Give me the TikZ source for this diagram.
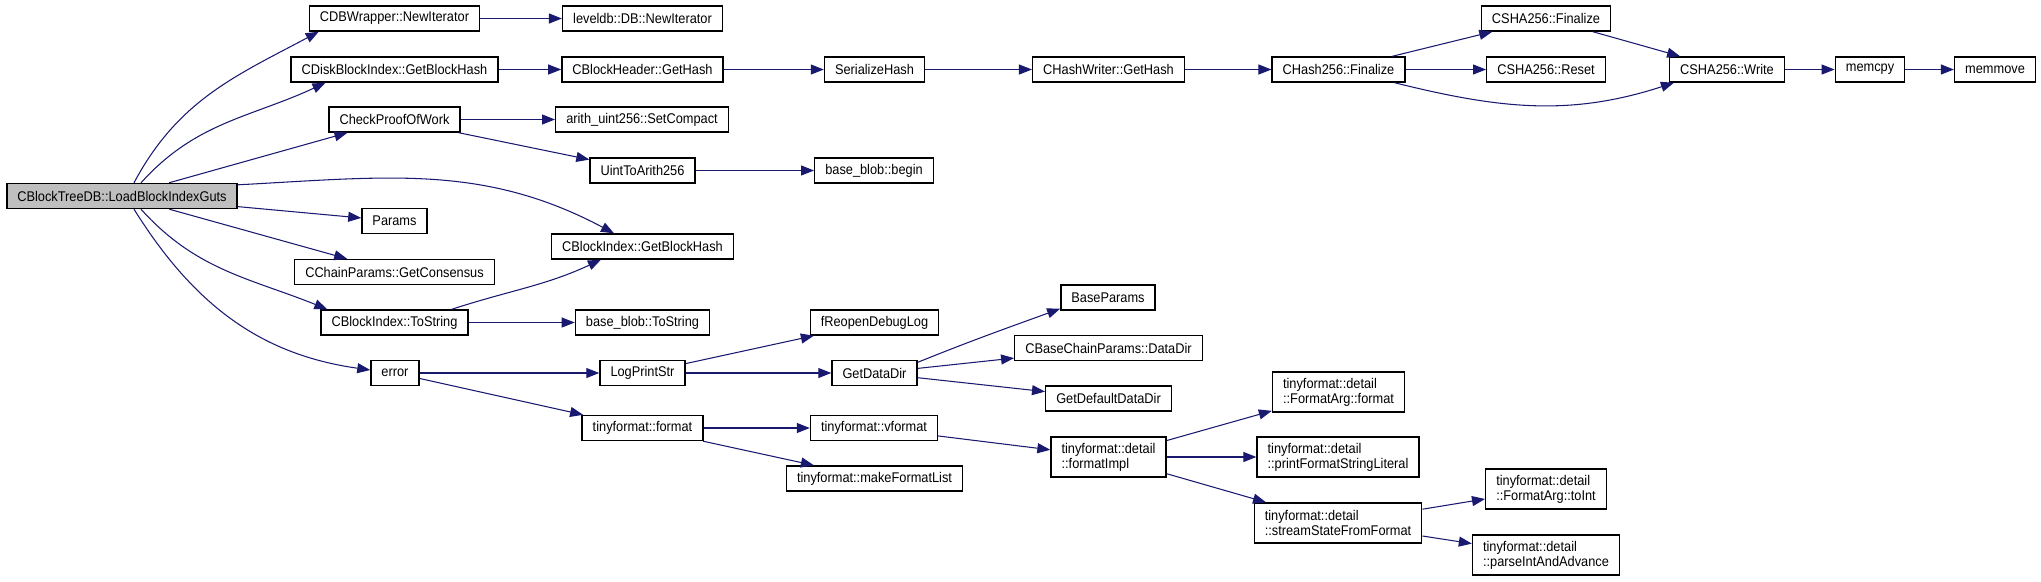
\documentclass[tikz,border=0pt]{standalone}
\usepackage{fontspec}
\setmainfont[FakeStretch=0.91]{Liberation Sans}
\usepackage{tikz}
\usetikzlibrary{arrows.meta, positioning}
\definecolor{EdgeNavy}{HTML}{191970}
\definecolor{RootGray}{HTML}{BFBFBF}

\begin{document}
\begin{tikzpicture}[
  box/.style={draw=black, line width=0.8pt, fill=white, minimum height=0.5cm,
              inner xsep=6pt, inner ysep=1pt, font=\fontsize{8}{8.5}\selectfont},
  box2/.style={box, align=left, minimum height=0.8cm},
  arr/.style={-{Triangle[length=0.26cm, width=0.2cm]}, EdgeNavy, line width=0.6pt}
]
\useasboundingbox (0,0) rectangle (40.82,-11.62);

% ── ROOT ──────────────────────────────────────────────────────────────────────
\node[box, fill=RootGray] (guts) at (2.44,-3.92) {CBlockTreeDB::LoadBlockIndexGuts};

% ── FIRST LEVEL ───────────────────────────────────────────────────────────────
\node[box] (newit)     at (7.89,-0.37) {CDBWrapper::NewIterator};
\node[box] (diskhash)  at (7.89,-1.39) {CDiskBlockIndex::GetBlockHash};
\node[box] (pow)       at (7.89,-2.39) {CheckProofOfWork};
\node[box] (params)    at (7.89,-4.42) {Params};
\node[box] (consensus) at (7.89,-5.44) {CChainParams::GetConsensus};
\node[box] (bitostr)   at (7.89,-6.45) {CBlockIndex::ToString};
\node[box] (error)     at (7.90,-7.46) {error};

% ── SECOND LEVEL ──────────────────────────────────────────────────────────────
\node[box] (dbnewit)    at (12.85,-0.37) {leveldb::DB::NewIterator};
\node[box] (hdrhash)    at (12.85,-1.39) {CBlockHeader::GetHash};
\node[box] (setcompact) at (12.84,-2.39) {arith\_uint256::SetCompact};
\node[box] (u2a)        at (12.85,-3.41) {UintToArith256};
\node[box] (bihash)     at (12.85,-4.93) {CBlockIndex::GetBlockHash};
\node[box] (blobtostr)  at (12.85,-6.45) {base\_blob::ToString};
\node[box] (logprint)   at (12.85,-7.46) {LogPrintStr};
\node[box] (tfformat)   at (12.85,-8.56) {tinyformat::format};

% ── THIRD LEVEL ───────────────────────────────────────────────────────────────
\node[box] (serhash)   at (17.49,-1.39) {SerializeHash};
\node[box] (blobbegin) at (17.48,-3.41) {base\_blob::begin};
\node[box] (reopen)    at (17.49,-6.45) {fReopenDebugLog};
\node[box] (datadir)   at (17.49,-7.46) {GetDataDir};
\node[box] (vformat)   at (17.48,-8.56) {tinyformat::vformat};
\node[box] (mkfmt)     at (17.49,-9.57) {tinyformat::makeFormatList};

% ── FOURTH LEVEL ──────────────────────────────────────────────────────────────
\node[box]  (hwhash)      at (22.17,-1.39) {CHashWriter::GetHash};
\node[box]  (baseparams)  at (22.16,-5.95) {BaseParams};
\node[box]  (cbcpdatadir) at (22.17,-6.96) {CBaseChainParams::DataDir};
\node[box]  (defdatadir)  at (22.17,-7.97) {GetDefaultDataDir};
\node[box2] (fmtimpl)     at (22.17,-9.14) {tinyformat::detail\\::formatImpl};

% ── FIFTH LEVEL ───────────────────────────────────────────────────────────────
\node[box]  (h256fin) at (26.77,-1.39) {CHash256::Finalize};
\node[box2] (fafmt)   at (26.77,-7.84) {tinyformat::detail\\::FormatArg::format};
\node[box2] (pfsl)    at (26.76,-9.14) {tinyformat::detail\\::printFormatStringLiteral};
\node[box2] (ssff)    at (26.76,-10.46) {tinyformat::detail\\::streamStateFromFormat};

% ── SHA256 + DETAIL ───────────────────────────────────────────────────────────
\node[box]  (shafin)  at (30.92,-0.37) {CSHA256::Finalize};
\node[box]  (sharst)  at (30.92,-1.39) {CSHA256::Reset};
\node[box2] (toint)   at (30.92,-9.78) {tinyformat::detail\\::FormatArg::toInt};
\node[box2] (piaa)    at (30.92,-11.10) {tinyformat::detail\\::parseIntAndAdvance};
\node[box]  (shawr)   at (34.54,-1.39) {CSHA256::Write};
\node[box]  (memcpy)  at (37.40,-1.39) {memcpy};
\node[box]  (memmove) at (39.90,-1.39) {memmove};

% calls from the root
\draw[arr] ([xshift=0.24cm]guts.north) to[out=62, in=208] ([xshift=0.2cm]newit.south west);
\draw[arr] ([xshift=0.38cm]guts.north) to[out=48, in=205] ([xshift=0.7cm]diskhash.south west);
\draw[arr] (guts) -- (pow);
\draw[arr] ([yshift=-0.04cm]guts.north east) to[out=3, in=152] ([xshift=-0.57cm]bihash.north);
\draw[arr] (guts) -- (params);
\draw[arr] (guts) -- (consensus);
\draw[arr] ([xshift=0.38cm]guts.south) to[out=-48, in=158] ([xshift=0.14cm]bitostr.north west);
\draw[arr] ([xshift=0.24cm]guts.south) to[out=-58, in=172] ([yshift=0.06cm]error.west);

% hash chain
\draw[arr] (newit) -- (dbnewit);
\draw[arr] (diskhash) -- (hdrhash);
\draw[arr] (hdrhash) -- (serhash);
\draw[arr] (serhash) -- (hwhash);
\draw[arr] (hwhash) -- (h256fin);
\draw[arr] (h256fin) -- (shafin);
\draw[arr] (h256fin) -- (sharst);
\draw[arr] ([xshift=-0.22cm]h256fin.south east) to[out=-14, in=198] ([xshift=0.1cm]shawr.south west);
\draw[arr] (shafin) -- (shawr);
\draw[arr] (shawr) -- (memcpy);
\draw[arr] (memcpy) -- (memmove);

% proof of work
\draw[arr] (pow) -- (setcompact);
\draw[arr] (pow) -- (u2a);
\draw[arr] (u2a) -- (blobbegin);

% block index
\draw[arr] ([xshift=-0.34cm]bitostr.north east) to[out=18, in=205] ([xshift=1cm]bihash.south west);
\draw[arr] (bitostr) -- (blobtostr);

% error / logging
\draw[arr] (error) -- (logprint);
\draw[arr] (error) -- (tfformat);
\draw[arr] (logprint) -- (reopen);
\draw[arr] (logprint) -- (datadir);
\draw[arr] ([yshift=-0.05cm]datadir.north east) to[out=22, in=200] ([yshift=0.04cm]baseparams.south west);
\draw[arr] (datadir) -- (cbcpdatadir);
\draw[arr] (datadir) -- (defdatadir);

% tinyformat
\draw[arr] (tfformat) -- (vformat);
\draw[arr] (tfformat) -- (mkfmt);
\draw[arr] (vformat) -- (fmtimpl);
\draw[arr] (fmtimpl) -- (fafmt);
\draw[arr] (fmtimpl) -- (pfsl);
\draw[arr] (fmtimpl) -- (ssff);
\draw[arr] (ssff) -- (toint);
\draw[arr] (ssff) -- (piaa);

\end{tikzpicture}
\end{document}
